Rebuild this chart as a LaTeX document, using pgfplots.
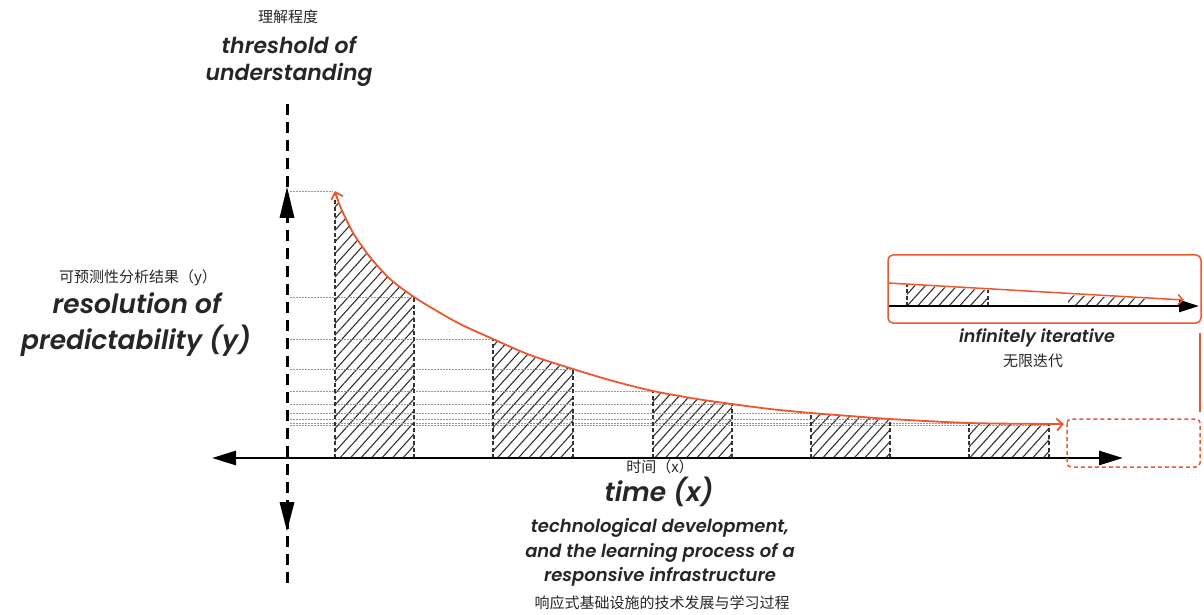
\documentclass[border=0pt]{standalone}
\usepackage{pgfplots}
\pgfplotsset{compat=1.18}
\usepgfplotslibrary{fillbetween}
\usetikzlibrary{patterns.meta,arrows.meta}
\usepackage{fontspec}
\setmainfont{Poppins}[BoldItalicFont={Poppins SemiBold Italic}]
\newfontfamily\cjk{Noto Sans CJK SC}
\definecolor{curve}{RGB}{238,86,46}
\definecolor{dotgray}{RGB}{150,150,150}

% label styles
\tikzset{
  en/.style={font=\fontsize{#1}{#1}\selectfont\bfseries\itshape, text=black!85, align=center, inner sep=0pt},
  zh/.style={font=\cjk\fontsize{15}{15}\selectfont, text=black!85, inner sep=0pt},
  hatch/.style={draw=none, pattern={Lines[angle=48,distance=7.8pt,line width=1.1pt]}, pattern color=black!80},
  side/.style={black!80, line width=1.1pt, dash pattern=on 4pt off 2.5pt},
  guide/.style={dotgray, line width=0.8pt, dash pattern=on 1.5pt off 1.5pt},
}

% curve, pixel rows
\pgfplotstableread{
x    y
335  191
340  206
347  221
355  236
370  257
390  279
414  297
437  311
460  324
493  339
530  355
573  369
613  381
653  391
697  399
732  404
770  409
811  413
850  416
890  419
969  423
1049 424
1064 424
}\curvedata

\begin{document}
\begin{tikzpicture}
\begin{axis}[
  hide axis,
  scale only axis,
  width=1204pt, height=614pt,
  xmin=0, xmax=1204,
  ymin=0, ymax=614,
  y dir=reverse,
  clip=false,
]
\path (axis cs:0,0) rectangle (axis cs:1204,614);

% dotted guides from bar tops to the y axis
\addplot[guide] coordinates {(290,191) (333,191)};
\addplot[guide] coordinates {(290,297) (414,297)};
\addplot[guide] coordinates {(290,339) (493,339)};
\addplot[guide] coordinates {(290,369) (573,369)};
\addplot[guide] coordinates {(290,391) (653,391)};
\addplot[guide] coordinates {(290,404) (732,404)};
\addplot[guide] coordinates {(290,413) (811,413)};
\addplot[guide] coordinates {(290,419) (890,419)};
\addplot[guide] coordinates {(290,423) (969,423)};
\addplot[guide] coordinates {(290,425) (1049,425)};

\addplot[draw=none, smooth, name path=crv] table {\curvedata};
\addplot[draw=none, name path=base] coordinates {(300,458) (1100,458)};

\addplot[hatch] fill between[of=crv and base, soft clip={domain=335:414}];
\addplot[hatch] fill between[of=crv and base, soft clip={domain=493:573}];
\addplot[hatch] fill between[of=crv and base, soft clip={domain=653:732}];
\addplot[hatch] fill between[of=crv and base, soft clip={domain=811:890}];
\addplot[hatch] fill between[of=crv and base, soft clip={domain=969:1049}];

% dashed bar sides
\addplot[side] coordinates {(335,458) (335,198)};
\addplot[side] coordinates {(414,458) (414,297)};
\addplot[side] coordinates {(493,458) (493,339)};
\addplot[side] coordinates {(573,458) (573,369)};
\addplot[side] coordinates {(653,458) (653,391)};
\addplot[side] coordinates {(732,458) (732,404)};
\addplot[side] coordinates {(811,458) (811,413)};
\addplot[side] coordinates {(890,458) (890,419)};
\addplot[side] coordinates {(969,458) (969,423)};
\addplot[side] coordinates {(1049,458) (1049,424)};

\addplot[curve, line width=1.8pt, smooth,
  {Straight Barb[length=6pt,width=12pt]}-{Straight Barb[length=6pt,width=12pt]}]
  table {\curvedata};

% y axis
\draw[black, line width=3pt, dash pattern=on 11pt off 7pt] (axis cs:287,104) -- (axis cs:287,586);
\fill[black] (axis cs:279.5,218) -- (axis cs:287,187) -- (axis cs:294.5,218) -- cycle;
\fill[black] (axis cs:279.5,502) -- (axis cs:287,531) -- (axis cs:294.5,502) -- cycle;

% x axis
\draw[black, line width=2.8pt,
  {Triangle[length=24pt,width=14pt]}-{Triangle[length=24pt,width=14pt]}]
  (axis cs:212,458) -- (axis cs:1123,458);

% dashed placeholder box and link up to inset
\draw[curve, line width=1.5pt, dash pattern=on 4pt off 3pt, rounded corners=4pt]
  (axis cs:1067,419) rectangle (axis cs:1200,467);
\draw[curve, line width=1.5pt] (axis cs:1200,412) -- (axis cs:1200,333);

% inset
\addplot[hatch] coordinates {(907,306) (907,285) (988,290) (988,306) (907,306)};
\addplot[hatch] coordinates {(1068,306) (1068,295) (1148,299) (1148,306) (1068,306)};
\addplot[side] coordinates {(907,306) (907,285)};
\addplot[side] coordinates {(988,306) (988,290)};
\draw[black, line width=2.6pt, -{Triangle[length=20pt,width=12pt]}]
  (axis cs:888,306) -- (axis cs:1199,306);
\addplot[curve, line width=1.5pt, -{Straight Barb[length=5pt,width=10pt]}]
  coordinates {(888,283) (1184,300)};
\draw[curve, line width=1.5pt, rounded corners=5pt] (axis cs:888,255) rectangle (axis cs:1201,323);

% labels
\node[zh] at (axis cs:288,17) {理解程度};
\node[en=22] at (axis cs:289,45) {threshold of};
\node[en=22] at (axis cs:289,75) {understanding};

\node[zh] at (axis cs:138,278) {可预测性分析结果（y）};
\node[en=26.5] at (axis cs:137,303) {resolution of};
\node[en=26.5] at (axis cs:136,341) {predictability (y)};

\node[zh] at (axis cs:660,467) {时间（x）};
\node[en=26.5] at (axis cs:659,492) {time (x)};
\node[en=18] at (axis cs:660,528) {technological development,};
\node[en=18] at (axis cs:660,553) {and the learning process of a};
\node[en=18] at (axis cs:660,577) {responsive infrastructure};
\node[zh] at (axis cs:662,603) {响应式基础设施的技术发展与学习过程};

\node[en=17.5] at (axis cs:1037,338) {infinitely iterative};
\node[zh] at (axis cs:1033,361) {无限迭代};
\end{axis}
\end{tikzpicture}
\end{document}
